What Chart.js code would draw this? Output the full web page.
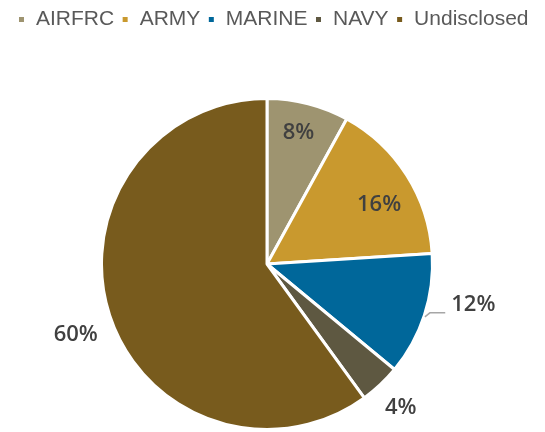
<!DOCTYPE html>
<html>
<head>
<meta charset="utf-8">
<script src="https://cdn.jsdelivr.net/npm/chart.js@4"></script>
<style>
    html, body { margin: 0; padding: 0; background: #ffffff; }
    #wrap { width: 545px; height: 432px; position: relative; }
</style>
</head>
<body>
<div id="wrap"><canvas id="branchChart"></canvas></div>
<script>
const branches = ["AIRFRC", "ARMY", "MARINE", "NAVY", "Undisclosed"]
const shares = [8, 16, 12, 4, 60]
const sliceColors = ["#9e9470", "#c9992e", "#00679a", "#5e5841", "#785b1d"]

// where each percentage sits: fraction of the radius, and a small turn (degrees) off the slice middle
const labelSpots = [
    { r: 0.82, turn: -1 },
    { r: 0.77, turn: 4 },
    { r: 1.27, turn: -7, leader: true },
    { r: 1.18, turn: 0 },
    { r: 1.23, turn: -2 }
]

// keep a gap between the legend row and the pie, and nudge the legend row a bit
const legendGap = {
    id: "legendGap",
    beforeInit(chart) {
        const fit = chart.legend.fit
        chart.legend.fit = function () {
            fit.bind(chart.legend)()
            this.height = 97
        }
    },
    afterLayout(chart) {
        const legend = chart.legend
        legend.left += 6
        legend.right += 6
        legend.top += 2
        legend.bottom += 2
    }
}

const percentLabels = {
    id: "percentLabels",
    afterDatasetsDraw(chart) {
        const ctx = chart.ctx
        const arcs = chart.getDatasetMeta(0).data
        ctx.save()
        ctx.font = "600 22px 'Open Sans', sans-serif"
        ctx.fillStyle = "#404040"
        ctx.textAlign = "center"
        ctx.textBaseline = "middle"
        arcs.forEach((arc, i) => {
            const spot = labelSpots[i]
            const mid = (arc.startAngle + arc.endAngle) / 2 + spot.turn * Math.PI / 180
            const x = arc.x + Math.cos(mid) * arc.outerRadius * spot.r
            const y = arc.y + Math.sin(mid) * arc.outerRadius * spot.r
            const text = shares[i] + "%"
            if (spot.leader) {
                const a = (arc.startAngle + arc.endAngle) / 2 + 0.5 * Math.PI / 180
                const x0 = arc.x + Math.cos(a) * (arc.outerRadius + 1)
                const y0 = arc.y + Math.sin(a) * (arc.outerRadius + 1)
                const half = ctx.measureText(text).width / 2
                ctx.strokeStyle = "#a6a6a6"
                ctx.lineWidth = 1.5
                ctx.beginPath()
                ctx.moveTo(x0, y0)
                ctx.lineTo(x0 + 5, y0 - 4)
                ctx.lineTo(x - half - 6, y0 - 4)
                ctx.stroke()
            }
            ctx.fillText(text, x, y + 1)
        })
        ctx.restore()
    }
}

const branchChart = new Chart(
    document.getElementById("branchChart"),
    {
        type: "pie",
        data: {
            labels: branches,
            datasets: [{
                data: shares,
                backgroundColor: sliceColors,
                borderColor: "#ffffff",
                borderWidth: 3
            }]
        },
        options: {
            responsive: true,
            maintainAspectRatio: false,
            animation: false,
            layout: {
                padding: { top: 0, bottom: 1, left: 0, right: 11 }
            },
            plugins: {
                legend: {
                    position: "top",
                    labels: {
                        boxWidth: 8,
                        boxHeight: 8,
                        padding: 7,
                        color: "#595959",
                        font: { family: "'Liberation Sans', Arial, sans-serif", size: 21 }
                    }
                },
                tooltip: { enabled: false }
            }
        },
        plugins: [legendGap, percentLabels]
    }
)
</script>
</body>
</html>
